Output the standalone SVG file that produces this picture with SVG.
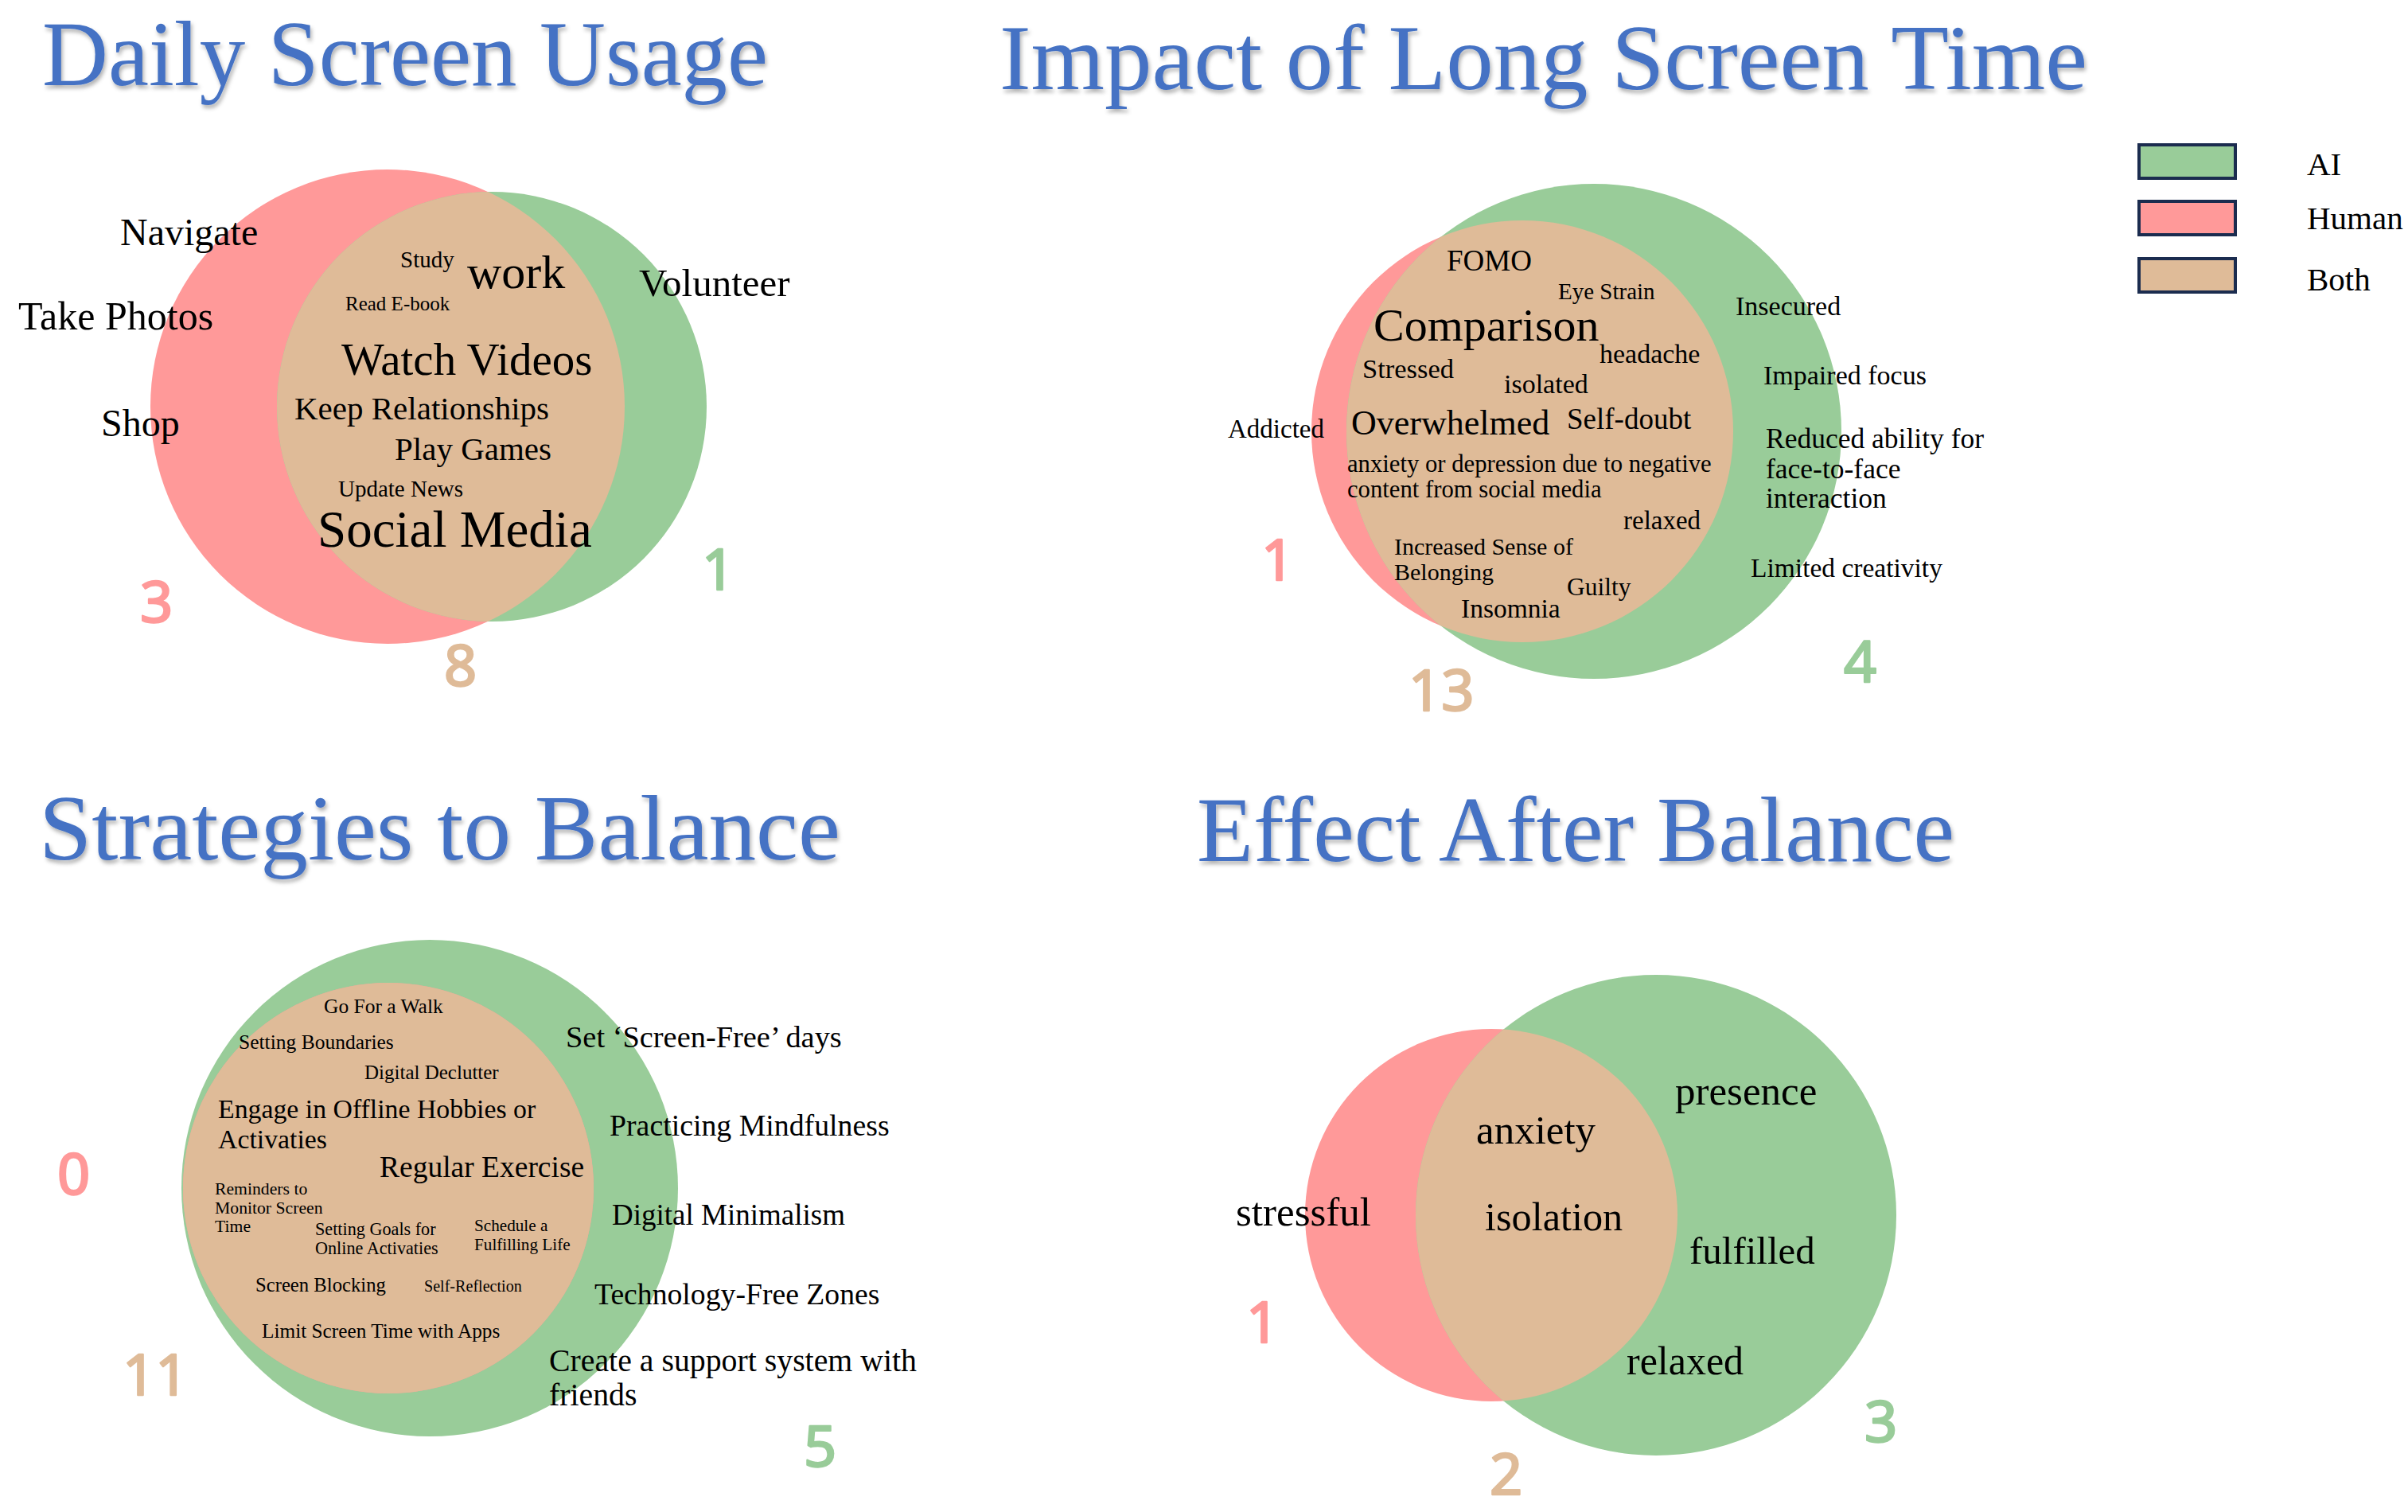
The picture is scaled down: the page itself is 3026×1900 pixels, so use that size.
<svg xmlns="http://www.w3.org/2000/svg" width="3026" height="1900" viewBox="0 0 3026 1900">
<defs>
<style>
.t{font-family:"Liberation Serif","Times New Roman",serif;fill:#000}
.ttl{font-family:"Liberation Serif","Times New Roman",serif;fill:#4472C4;font-size:116px;filter:url(#sh)}
.n{font-family:"Noto Sans","Liberation Sans",sans-serif;font-size:72px;stroke-width:2.5;stroke-linejoin:round}
.hr{fill:#FF9999}.ai{fill:#99CC99}.bo{fill:#DFBB98}
.n.hr{stroke:#FF9999}.n.ai{stroke:#99CC99}.n.bo{stroke:#DFBB98}
.leg{stroke:#1B2C4F;stroke-width:4}
</style>
<filter id="sh" x="-5%" y="-20%" width="110%" height="150%">
<feDropShadow dx="2" dy="4" stdDeviation="2.5" flood-color="#000" flood-opacity="0.3"/>
</filter>
<clipPath id="c1"><circle cx="618" cy="511" r="270"/></clipPath>
<clipPath id="c2"><circle cx="2003" cy="542" r="311"/></clipPath>
<clipPath id="c3"><circle cx="540" cy="1493" r="312"/></clipPath>
<clipPath id="c4"><circle cx="2081" cy="1527" r="302"/></clipPath>
</defs>
<rect width="3026" height="1900" fill="#fff"/>

<g id="titles">
<text class="ttl" x="53" y="107" textLength="912" lengthAdjust="spacingAndGlyphs">Daily Screen Usage</text>
<text class="ttl" x="1256" y="112" textLength="1367" lengthAdjust="spacingAndGlyphs">Impact of Long Screen Time</text>
<text class="ttl" x="49" y="1080" textLength="1007" lengthAdjust="spacingAndGlyphs">Strategies to Balance</text>
<text class="ttl" x="1504" y="1082" textLength="952" lengthAdjust="spacingAndGlyphs">Effect After Balance</text>
</g>

<g id="legend">
<g id="legend-ai"><rect class="ai leg" x="2688" y="182" width="121" height="42"/><text class="t" x="2899" y="220" font-size="41">AI</text></g>
<g id="legend-human"><rect class="hr leg" x="2688" y="253" width="121" height="42"/><text class="t" x="2899" y="288" font-size="41">Human</text></g>
<g id="legend-both"><rect class="bo leg" x="2688" y="325" width="121" height="42"/><text class="t" x="2899" y="365" font-size="41">Both</text></g>
</g>

<g id="connectors"/>

<!-- Panel 1 -->
<g id="p1">
<g id="p1-human"><circle class="hr" cx="487" cy="511" r="298"/>
<text class="t" x="151" y="308" font-size="48">Navigate</text>
<text class="t" x="23" y="414" font-size="50">Take Photos</text>
<text class="t" x="127" y="548" font-size="48">Shop</text>
<text class="n hr" x="176" y="782">3</text></g>
<g id="p1-ai"><circle class="ai" cx="618" cy="511" r="270"/>
<text class="t" x="803" y="372" font-size="49">Volunteer</text>
<text class="n ai" x="882" y="741">1</text></g>
<g id="p1-both"><circle class="bo" cx="487" cy="511" r="298" clip-path="url(#c1)"/>
<text class="t" x="503" y="336" font-size="29">Study</text>
<text class="t" x="587" y="362" font-size="60">work</text>
<text class="t" x="434" y="390" font-size="25">Read E-book</text>
<text class="t" x="429" y="471" font-size="57">Watch Videos</text>
<text class="t" x="370" y="527" font-size="41">Keep Relationships</text>
<text class="t" x="496" y="578" font-size="41">Play Games</text>
<text class="t" x="425" y="624" font-size="29">Update News</text>
<text class="t" x="399" y="687" font-size="65">Social Media</text>
<text class="n bo" x="558" y="862">8</text></g>
</g>

<!-- Panel 2 -->
<g id="p2">
<g id="p2-human"><circle class="hr" cx="1913" cy="542" r="265"/>
<text class="t" x="1543" y="550" font-size="33">Addicted</text>
<text class="n hr" x="1585" y="729">1</text></g>
<g id="p2-ai"><circle class="ai" cx="2003" cy="542" r="311"/>
<text class="t" x="2181" y="396" font-size="34">Insecured</text>
<text class="t" x="2216" y="483" font-size="34">Impaired focus</text>
<text class="t" x="2219" y="563" font-size="35.5">Reduced ability for</text>
<text class="t" x="2219" y="601" font-size="35.5">face-to-face</text>
<text class="t" x="2219" y="638" font-size="35.5">interaction</text>
<text class="t" x="2200" y="725" font-size="33.5">Limited creativity</text>
<text class="n ai" x="2317" y="857">4</text></g>
<g id="p2-both"><circle class="bo" cx="1913" cy="542" r="265" clip-path="url(#c2)"/>
<text class="t" x="1818" y="340" font-size="37">FOMO</text>
<text class="t" x="1958" y="376" font-size="29">Eye Strain</text>
<text class="t" x="1726" y="428" font-size="58">Comparison</text>
<text class="t" x="2010" y="456" font-size="34">headache</text>
<text class="t" x="1712" y="475" font-size="34.5">Stressed</text>
<text class="t" x="1890" y="494" font-size="34">isolated</text>
<text class="t" x="1698" y="546" font-size="44">Overwhelmed</text>
<text class="t" x="1969" y="539" font-size="37">Self-doubt</text>
<text class="t" x="1693" y="593" font-size="30.7">anxiety or depression due to negative</text>
<text class="t" x="1693" y="625" font-size="30.7">content from social media</text>
<text class="t" x="2040" y="665" font-size="33">relaxed</text>
<text class="t" x="1752" y="697" font-size="30">Increased Sense of</text>
<text class="t" x="1752" y="729" font-size="30">Belonging</text>
<text class="t" x="1969" y="748" font-size="31.5">Guilty</text>
<text class="t" x="1836" y="776" font-size="33.5">Insomnia</text>
<text class="n bo" x="1770" y="893">13</text></g>
</g>

<!-- Panel 3 -->
<g id="p3">
<g id="p3-ai"><circle class="ai" cx="540" cy="1493" r="312"/>
<text class="t" x="711" y="1316" font-size="38.4">Set ‘Screen-Free’ days</text>
<text class="t" x="766" y="1427" font-size="37.8">Practicing Mindfulness</text>
<text class="t" x="769" y="1539" font-size="37">Digital Minimalism</text>
<text class="t" x="747" y="1639" font-size="37.7">Technology-Free Zones</text>
<text class="t" x="690" y="1723" font-size="39.8">Create a support system with</text>
<text class="t" x="690" y="1766" font-size="39.8">friends</text>
<text class="n ai" x="1010" y="1843">5</text></g>
<g id="p3-human"><circle class="hr" cx="488" cy="1493" r="258"/>
<text class="n hr" x="72" y="1501">0</text></g>
<g id="p3-both"><circle class="bo" cx="488" cy="1493" r="258" clip-path="url(#c3)"/>
<text class="t" x="407" y="1273" font-size="25.5">Go For a Walk</text>
<text class="t" x="300" y="1318" font-size="25.5">Setting Boundaries</text>
<text class="t" x="458" y="1356" font-size="25">Digital Declutter</text>
<text class="t" x="274" y="1405" font-size="33.8">Engage in Offline Hobbies or</text>
<text class="t" x="274" y="1443" font-size="33.8">Activaties</text>
<text class="t" x="477" y="1479" font-size="37.5">Regular Exercise</text>
<text class="t" x="270" y="1501" font-size="21.7">Reminders to</text>
<text class="t" x="270" y="1525" font-size="21.7">Monitor Screen</text>
<text class="t" x="270" y="1548" font-size="21.7">Time</text>
<text class="t" x="396" y="1552" font-size="22.2">Setting Goals for</text>
<text class="t" x="396" y="1576" font-size="22.2">Online Activaties</text>
<text class="t" x="596" y="1547" font-size="21.2">Schedule a</text>
<text class="t" x="596" y="1571" font-size="21.2">Fulfilling Life</text>
<text class="t" x="321" y="1623" font-size="24.7">Screen Blocking</text>
<text class="t" x="533" y="1623" font-size="20.1">Self-Reflection</text>
<text class="t" x="329" y="1681" font-size="25.3">Limit Screen Time with Apps</text>
<text class="n bo" x="154" y="1753">11</text></g>
</g>

<!-- Panel 4 -->
<g id="p4">
<g id="p4-human"><circle class="hr" cx="1874" cy="1527" r="234"/>
<text class="t" x="1553" y="1540" font-size="51">stressful</text>
<text class="n hr" x="1566" y="1687">1</text></g>
<g id="p4-ai"><circle class="ai" cx="2081" cy="1527" r="302"/>
<text class="t" x="2105" y="1388" font-size="51">presence</text>
<text class="t" x="2123" y="1588" font-size="49">fulfilled</text>
<text class="t" x="2044" y="1727" font-size="50">relaxed</text>
<text class="n ai" x="2343" y="1812">3</text></g>
<g id="p4-both"><circle class="bo" cx="1874" cy="1527" r="234" clip-path="url(#c4)"/>
<text class="t" x="1855" y="1437" font-size="51">anxiety</text>
<text class="t" x="1866" y="1546" font-size="50.3">isolation</text>
<text class="n bo" x="1872" y="1878">2</text></g>
</g>
</svg>
